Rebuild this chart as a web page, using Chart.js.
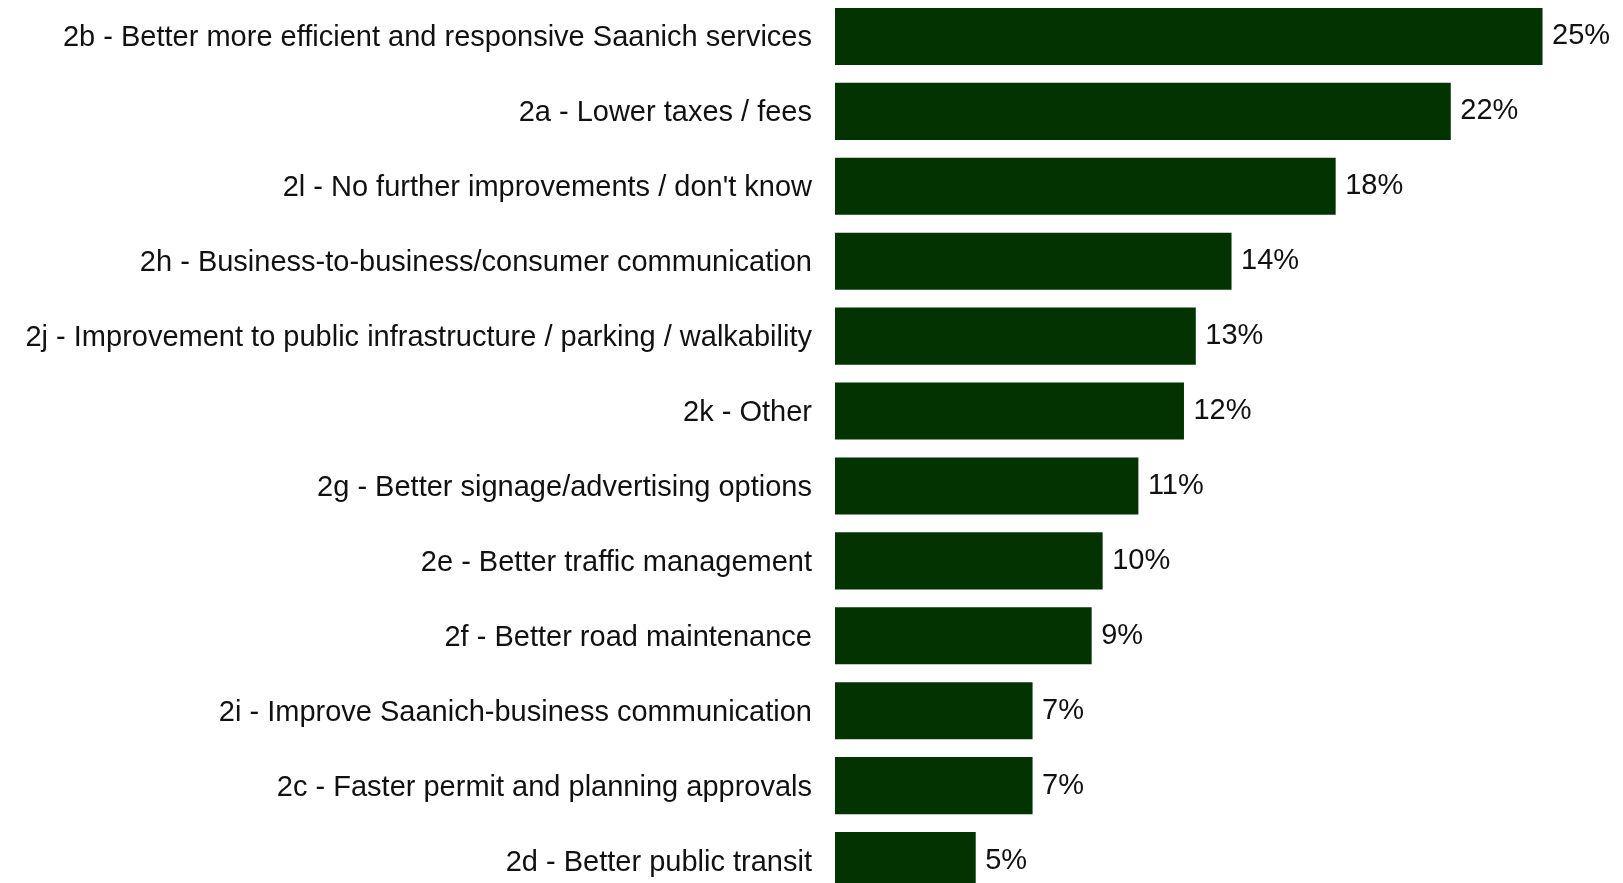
<!DOCTYPE html>
<html>
<head>
<meta charset="utf-8">
<script src="https://cdn.jsdelivr.net/npm/chart.js@4/dist/chart.umd.min.js"></script>
<style>
html,body{margin:0;padding:0;background:#fff;overflow:hidden;width:1623px;height:883px;}
#wrap{position:absolute;left:0;top:-1.5px;width:1623px;height:899px;}
</style>
</head>
<body>
<div id="wrap"><canvas id="c"></canvas></div>
<script>
const categories = [
  "2b - Better more efficient and responsive Saanich services",
  "2a - Lower taxes / fees",
  "2l - No further improvements / don't know",
  "2h - Business-to-business/consumer communication",
  "2j - Improvement to public infrastructure / parking / walkability",
  "2k - Other",
  "2g - Better signage/advertising options",
  "2e - Better traffic management",
  "2f - Better road maintenance",
  "2i - Improve Saanich-business communication",
  "2c - Faster permit and planning approvals",
  "2d - Better public transit"
];
const values = [25.14, 21.88, 17.79, 14.09, 12.82, 12.40, 10.78, 9.51, 9.12, 7.02, 7.02, 5.00];
const valueLabels = ["25%", "22%", "18%", "14%", "13%", "12%", "11%", "10%", "9%", "7%", "7%", "5%"];

const FONT = "'Liberation Sans', Arial, Helvetica, sans-serif";

const labelPlugin = {
  id: 'barLabels',
  afterDatasetsDraw(chart) {
    const ctx = chart.ctx;
    const meta = chart.getDatasetMeta(0);
    ctx.save();
    ctx.font = "29px " + FONT;
    ctx.fillStyle = "#111111";
    ctx.textAlign = "left";
    ctx.textBaseline = "middle";
    meta.data.forEach((el, i) => {
      ctx.fillText(valueLabels[i], el.x + 9.5, el.y);
    });
    ctx.restore();
  }
};

new Chart(document.getElementById('c'), {
  type: 'bar',
  data: {
    labels: categories,
    datasets: [{
      data: values,
      backgroundColor: '#033300',
      borderWidth: 0,
      categoryPercentage: 1.0,
      barPercentage: 0.761
    }]
  },
  plugins: [labelPlugin],
  options: {
    indexAxis: 'y',
    responsive: true,
    maintainAspectRatio: false,
    animation: false,
    layout: { padding: 0 },
    plugins: { legend: { display: false }, tooltip: { enabled: false } },
    scales: {
      x: { display: false, min: 0, max: 28 },
      y: {
        grid: { display: false, drawTicks: false },
        border: { display: false },
        ticks: {
          autoSkip: false,
          padding: 23,
          labelOffset: 2,
          color: '#111111',
          font: { size: 29, family: FONT }
        },
        afterFit(axis) {
          axis.width = 835;
          axis.paddingTop = 0;
          axis.paddingBottom = 0;
        }
      }
    }
  }
});
</script>
</body>
</html>
